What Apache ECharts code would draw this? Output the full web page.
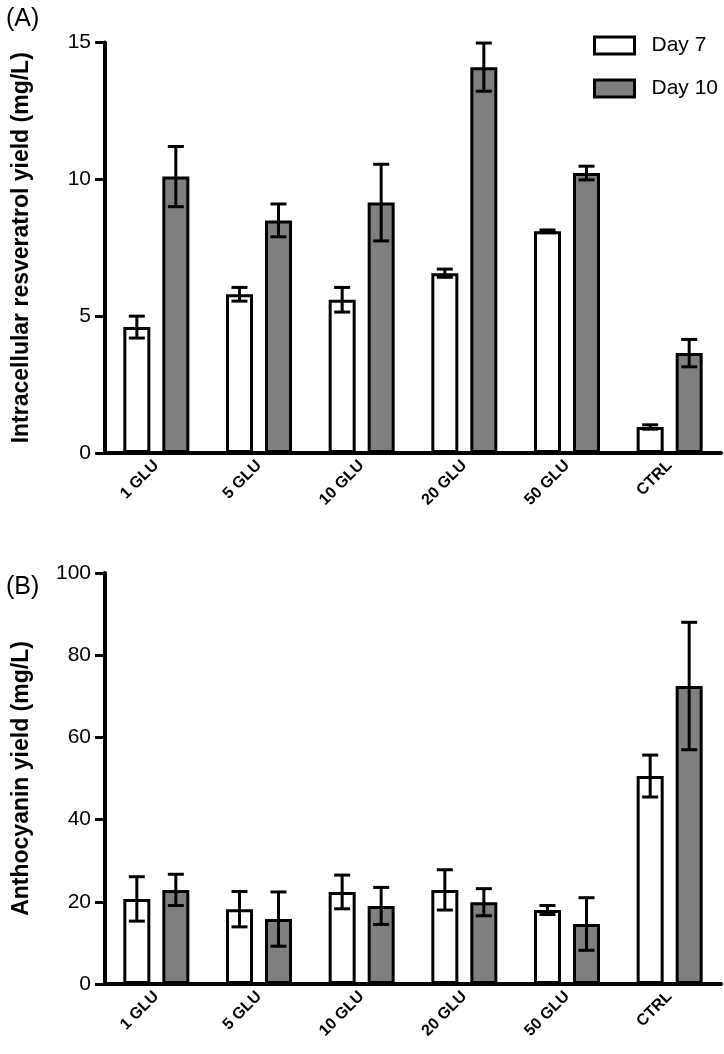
<!DOCTYPE html>
<html>
<head>
<meta charset="utf-8">
<script src="https://cdn.jsdelivr.net/npm/echarts@6/dist/echarts.min.js"></script>
<style>
html,body{margin:0;padding:0;background:#fff;}
#chart{width:724px;height:1054px;}
</style>
</head>
<body>
<div id="chart"></div>
<script>
const categories = ['1 GLU', '5 GLU', '10 GLU', '20 GLU', '50 GLU', 'CTRL'];
const seriesNames = ['Day 7', 'Day 10'];

// Panel A: Intracellular resveratrol yield (mg/L)
const resDay7 = [4.6, 5.8, 5.6, 6.57, 8.1, 0.95];
const resDay7Err = [0.4, 0.25, 0.45, 0.15, 0.05, 0.08];
const resDay10 = [10.1, 8.5, 9.15, 14.1, 10.23, 3.65];
const resDay10Err = [1.1, 0.6, 1.4, 0.88, 0.25, 0.5];

// Panel B: Anthocyanin yield (mg/L)
const antDay7 = [20.7, 18.2, 22.4, 22.9, 18.0, 50.6];
const antDay7Err = [5.4, 4.3, 4.1, 4.9, 1.1, 5.1];
const antDay10 = [22.9, 15.8, 19.0, 19.9, 14.6, 72.5];
const antDay10Err = [3.8, 6.6, 4.5, 3.3, 6.4, 15.5];

const FONT = 'Liberation Sans, Arial, sans-serif';
const BAR_W = 27;
const BAR_GAP_PX = 12;
const HALF_PITCH = (BAR_W + BAR_GAP_PX) / 2;
const CAP = 8;

function errSeries(vals, errs, side, axisIdx) {
  return {
    type: 'custom',
    xAxisIndex: axisIdx, yAxisIndex: axisIdx,
    z: 10,
    silent: true,
    data: vals.map((v, i) => [i, v, errs[i]]),
    renderItem: function (params, api) {
      const i = api.value(0), v = api.value(1), e = api.value(2);
      const hi = api.coord([i, v + e]);
      const lo = api.coord([i, v - e]);
      const x = hi[0] + side * HALF_PITCH;
      const st = { stroke: '#000', lineWidth: 3 };
      return {
        type: 'group',
        children: [
          { type: 'line', shape: { x1: x, y1: hi[1], x2: x, y2: lo[1] }, style: st },
          { type: 'line', shape: { x1: x - CAP, y1: hi[1], x2: x + CAP, y2: hi[1] }, style: st },
          { type: 'line', shape: { x1: x - CAP, y1: lo[1], x2: x + CAP, y2: lo[1] }, style: st }
        ]
      };
    }
  };
}

function barSeries(name, vals, color, axisIdx) {
  return {
    name: name, type: 'bar',
    xAxisIndex: axisIdx, yAxisIndex: axisIdx,
    barWidth: BAR_W,
    barGap: (BAR_GAP_PX / BAR_W * 100) + '%',
    itemStyle: { color: color, borderColor: '#000', borderWidth: 3 },
    data: vals
  };
}

function xAxisCfg(gridIdx) {
  return {
    type: 'category', gridIndex: gridIdx, data: categories,
    axisLine: { lineStyle: { color: '#000', width: 4 } },
    axisTick: { alignWithLabel: true, length: 10, lineStyle: { color: '#000', width: 4 } },
    axisLabel: { rotate: 45, fontSize: 16, fontWeight: 'bold', color: '#000', fontFamily: FONT, margin: 10 }
  };
}

function yAxisCfg(gridIdx, max, interval, name, gap) {
  return {
    type: 'value', gridIndex: gridIdx, min: 0, max: max, interval: interval,
    name: name, nameLocation: 'middle', nameGap: gap, nameRotate: 90,
    nameTextStyle: { fontSize: 23, fontWeight: 'bold', color: '#000', fontFamily: FONT },
    splitLine: { show: false },
    axisLine: { show: true, lineStyle: { color: '#000', width: 4 } },
    axisTick: { show: true, length: 10, lineStyle: { color: '#000', width: 3 } },
    axisLabel: { fontSize: 21, color: '#000', fontFamily: FONT, margin: 14 }
  };
}

const chart = echarts.init(document.getElementById('chart'), null, { renderer: 'canvas' });
chart.setOption({
  backgroundColor: '#fff',
  animation: false,
  title: [
    { text: '(A)', left: 1, top: 2, textStyle: { fontSize: 25, fontWeight: 'normal', color: '#000', fontFamily: FONT } },
    { text: '(B)', left: 1, top: 570, textStyle: { fontSize: 25, fontWeight: 'normal', color: '#000', fontFamily: FONT } }
  ],
  legend: {
    data: seriesNames,
    orient: 'vertical',
    left: 593, top: 35,
    padding: 0,
    itemWidth: 40, itemHeight: 17, itemGap: 22,
    icon: 'rect',
    itemStyle: { borderColor: '#000', borderWidth: 3 },
    textStyle: { fontSize: 21, color: '#000', fontFamily: FONT, padding: [0, 0, 0, 12] }
  },
  grid: [
    { left: 105, width: 616, top: 42.5, height: 410.5 },
    { left: 105, width: 616, top: 573, height: 411 }
  ],
  xAxis: [xAxisCfg(0), xAxisCfg(1)],
  yAxis: [
    yAxisCfg(0, 15, 5, 'Intracellular resveratrol yield (mg/L)', 72),
    yAxisCfg(1, 100, 20, 'Anthocyanin yield (mg/L)', 72)
  ],
  series: [
    barSeries('Day 7', resDay7, '#ffffff', 0),
    barSeries('Day 10', resDay10, '#7f7f7f', 0),
    errSeries(resDay7, resDay7Err, -1, 0),
    errSeries(resDay10, resDay10Err, 1, 0),
    barSeries('Day 7', antDay7, '#ffffff', 1),
    barSeries('Day 10', antDay10, '#7f7f7f', 1),
    errSeries(antDay7, antDay7Err, -1, 1),
    errSeries(antDay10, antDay10Err, 1, 1)
  ]
});
</script>
</body>
</html>
